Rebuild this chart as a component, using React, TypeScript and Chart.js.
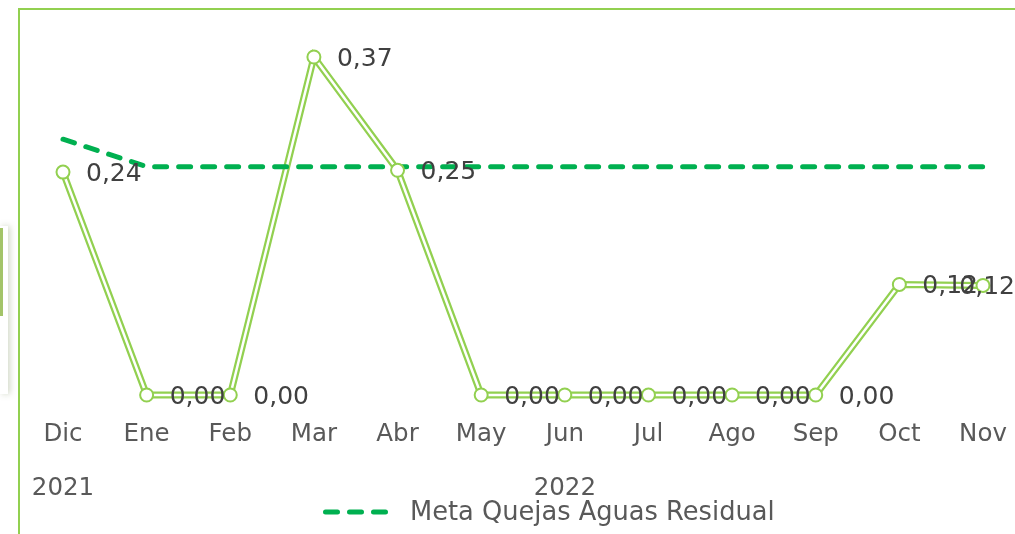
import React, { useEffect, useRef } from 'react';
import { Chart, registerables } from 'chart.js';

Chart.register(...registerables);

// ---- data ----
const months = ['Dic', 'Ene', 'Feb', 'Mar', 'Abr', 'May', 'Jun', 'Jul', 'Ago', 'Sep', 'Oct', 'Nov'];
const quejas = [0.244, 0, 0, 0.37, 0.246, 0, 0, 0, 0, 0, 0.121, 0.12];
const metaValues = [0.28, 0.25, 0.25, 0.25, 0.25, 0.25, 0.25, 0.25, 0.25, 0.25, 0.25, 0.25];
const years = ['2021', '2022'];
const yearFirstIdx = [0, 1];
const yearLastIdx = [0, 11];
const seriesName = 'Quejas Aguas Residual';
const metaName = 'Meta Quejas Aguas Residual';

const FAMILY = '"DejaVu Sans", sans-serif';
const LINE_GREEN = '#92D050';
const META_GREEN = '#00B050';

const fmt = (v: number) => v.toFixed(2).replace('.', ',');

const decorPlugin = {
  id: 'decor',
  afterDatasetsDraw(chart: any) {
    const ctx = chart.ctx;
    const pts = chart.getDatasetMeta(3).data;
    ctx.save();
    ctx.font = `25px ${FAMILY}`;
    ctx.fillStyle = '#404040';
    ctx.textBaseline = 'middle';
    ctx.textAlign = 'left';
    pts.forEach((pt: any, i: number) => {
      const text = fmt(quejas[i]);
      const w = ctx.measureText(text).width;
      let x = pt.x + 23;
      if (x + w > chart.width) x = chart.width - w;
      ctx.fillText(text, x, pt.y + 2);
    });
    ctx.restore();
  },
  afterDraw(chart: any) {
    const ctx = chart.ctx;
    const xs = chart.scales.x;
    ctx.save();
    ctx.font = `24.5px ${FAMILY}`;
    ctx.fillStyle = '#595959';
    ctx.textBaseline = 'middle';
    ctx.textAlign = 'center';
    years.forEach((y, i) => {
      const cx = (xs.getPixelForValue(yearFirstIdx[i]) + xs.getPixelForValue(yearLastIdx[i])) / 2;
      ctx.fillText(y, cx, 489);
    });
    // legend for meta series
    const ds = chart.data.datasets[2];
    const ly = 512;
    ctx.strokeStyle = ds.borderColor;
    ctx.lineWidth = ds.borderWidth;
    ctx.lineCap = 'round';
    ctx.setLineDash([12, 12]);
    ctx.beginPath();
    ctx.moveTo(325.5, ly);
    ctx.lineTo(385.5, ly);
    ctx.stroke();
    ctx.setLineDash([]);
    ctx.font = `25.7px ${FAMILY}`;
    ctx.textAlign = 'left';
    ctx.fillStyle = '#595959';
    ctx.fillText(ds.label, 410, 513);
    ctx.restore();
  },
};

export default function App() {
  const canvasRef = useRef<HTMLCanvasElement | null>(null);

  useEffect(() => {
    if (!canvasRef.current) return;
    const chart = new Chart(canvasRef.current, {
      type: 'line',
      data: {
        labels: months,
        datasets: [
          {
            label: seriesName,
            data: quejas,
            borderColor: LINE_GREEN,
            borderWidth: 7,
            pointRadius: 0,
            tension: 0,
            clip: false,
            order: 4,
          } as any,
          {
            label: seriesName + ' (centro)',
            data: quejas,
            borderColor: '#FFFFFF',
            borderWidth: 2.5,
            pointRadius: 0,
            tension: 0,
            clip: false,
            order: 3,
          } as any,
          {
            label: metaName,
            data: metaValues,
            borderColor: META_GREEN,
            borderWidth: 5,
            borderDash: [12, 12],
            borderCapStyle: 'round',
            pointRadius: 0,
            tension: 0,
            clip: false,
            order: 2,
          } as any,
          {
            label: seriesName + ' (marcadores)',
            data: quejas,
            showLine: false,
            pointRadius: 6.5,
            pointBorderWidth: 2,
            pointBorderColor: LINE_GREEN,
            pointBackgroundColor: '#FFFFFF',
            clip: false,
            order: 1,
          } as any,
        ],
      },
      options: {
        responsive: false,
        animation: false,
        devicePixelRatio: 1,
        layout: { padding: { left: 63, right: 32, top: 29.6, bottom: 0 } },
        plugins: {
          legend: { display: false },
          tooltip: { enabled: false },
        },
        scales: {
          x: {
            grid: { display: false, drawTicks: false },
            border: { display: false },
            ticks: {
              color: '#595959',
              font: { family: FAMILY, size: 24.5 },
              padding: 25,
              autoSkip: false,
              maxRotation: 0,
            },
            afterFit: (scale: any) => {
              scale.height = 139;
              scale.paddingLeft = 0;
              scale.paddingRight = 0;
            },
          },
          y: {
            display: false,
            min: 0,
            max: 0.4,
          },
        },
      } as any,
      plugins: [decorPlugin],
    });
    return () => chart.destroy();
  }, []);

  return (
    <div style={{ position: 'fixed', left: 0, top: 0, width: 1015, height: 534, background: '#fff', overflow: 'hidden' }}>
      <div
        style={{
          position: 'absolute',
          left: 0,
          top: 226,
          width: 8,
          height: 168,
          background: '#fff',
          boxShadow: '2px 0 6px rgba(120,140,90,0.35)',
        }}
      >
        <div style={{ position: 'absolute', left: 0, top: 2, width: 3, height: 88, background: '#A3C468' }} />
      </div>
      <div
        style={{
          position: 'absolute',
          left: 18,
          top: 8,
          width: 1100,
          height: 600,
          borderTop: `2px solid ${LINE_GREEN}`,
          borderLeft: `2px solid ${LINE_GREEN}`,
        }}
      />
      <canvas ref={canvasRef} width={1015} height={534} style={{ position: 'absolute', left: 0, top: 0 }} />
    </div>
  );
}
